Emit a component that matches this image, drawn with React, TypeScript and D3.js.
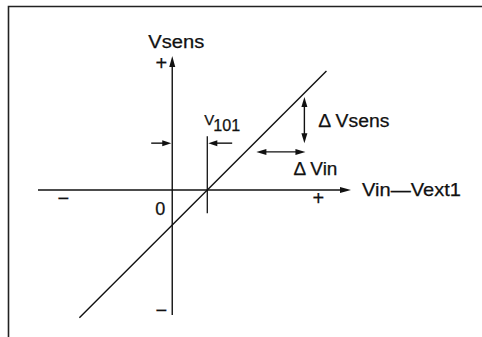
import React from "react";
import * as d3 from "d3";

// axis extents in data units (1 unit = V101 offset)
const vinExtent = [-3.83, 5.1];
const vsensExtent = [-3.57, 3.83];

// transfer characteristic Vsens = Vin - Vext1 - V101
const transferVin = [-2.65, 4.4];
const transferVsens = [-3.65, 3.4];

const v101 = 1;
const v101Marker = [-0.66, 1.54];
const offsetArrowLevel = 1.34;
const offsetArrowLeft = [-0.6, 0];
const offsetArrowRight = [1.71, v101];

const deltaVinRange = [2.4, 3.8];
const deltaVinLevel = 1.09;
const deltaVsensRange = [1.34, 2.66];
const deltaVsensAt = 3.77;

const xSignLabels = ["−", "+"];
const xSignPos = [-3.11, 4.17];
const ySignLabels = ["+", "−"];
const ySignPos = [3.63, -3.43];

const W = 482;
const H = 337;
const FONT = "'Liberation Sans', Arial, Helvetica, sans-serif";

// filled arrowhead with its tip at (x, y), pointing along (dx, dy)
function head(x: number, y: number, dx: number, dy: number, len = 10, half = 3) {
  const n = Math.hypot(dx, dy);
  const ux = dx / n;
  const uy = dy / n;
  const bx = x - ux * len;
  const by = y - uy * len;
  return `M${x},${y}L${bx - uy * half},${by + ux * half}L${bx + uy * half},${by - ux * half}Z`;
}

export default function App() {
  const x = d3.scaleLinear().domain(vinExtent).range([38, 351]);
  const y = d3.scaleLinear().domain(vsensExtent).range([315, 56]);

  const x0 = x(0);
  const y0 = y(0);

  const line = d3
    .line<number>()
    .x((d) => x(transferVin[d]))
    .y((d) => y(transferVsens[d]));

  const stroke = "#111";
  const sw = 1.4;
  const txt = { fill: stroke, stroke: stroke, strokeWidth: 0.25 };

  return (
    <svg
      width={W}
      height={H}
      style={{ position: "absolute", left: 0, top: 0, background: "#fff" }}
      fontFamily={FONT}
    >
      {/* frame */}
      <path d={`M8.5,337V6.5H482`} fill="none" stroke="#222" strokeWidth={1.6} />

      {/* axes */}
      <line x1={x(vinExtent[0])} x2={x(vinExtent[1]) - 6} y1={y0} y2={y0} stroke={stroke} strokeWidth={sw} />
      <path d={head(x(vinExtent[1]), y0, 1, 0, 11, 3)} fill={stroke} />
      <line x1={x0} x2={x0} y1={y(vsensExtent[0])} y2={y(vsensExtent[1]) + 6} stroke={stroke} strokeWidth={sw} />
      <path d={head(x0, y(vsensExtent[1]), 0, -1, 11, 3)} fill={stroke} />

      {/* transfer line */}
      <path d={line([0, 1]) ?? ""} fill="none" stroke={stroke} strokeWidth={sw} />

      {/* V101 offset marker */}
      <line x1={x(v101)} x2={x(v101)} y1={y(v101Marker[0])} y2={y(v101Marker[1])} stroke={stroke} strokeWidth={1.3} />
      <line
        x1={x(offsetArrowLeft[0])}
        x2={x(offsetArrowLeft[1]) - 6}
        y1={y(offsetArrowLevel)}
        y2={y(offsetArrowLevel)}
        stroke={stroke}
        strokeWidth={sw}
      />
      <path d={head(x(offsetArrowLeft[1]) - 1, y(offsetArrowLevel), 1, 0, 9, 3)} fill={stroke} />
      <line
        x1={x(offsetArrowRight[0])}
        x2={x(offsetArrowRight[1]) + 6}
        y1={y(offsetArrowLevel)}
        y2={y(offsetArrowLevel)}
        stroke={stroke}
        strokeWidth={sw}
      />
      <path d={head(x(offsetArrowRight[1]) + 1, y(offsetArrowLevel), -1, 0, 9, 3)} fill={stroke} />

      {/* delta Vsens double arrow */}
      <line
        x1={x(deltaVsensAt)}
        x2={x(deltaVsensAt)}
        y1={y(deltaVsensRange[0]) - 6}
        y2={y(deltaVsensRange[1]) + 6}
        stroke={stroke}
        strokeWidth={sw}
      />
      <path d={head(x(deltaVsensAt), y(deltaVsensRange[1]), 0, -1, 10, 3)} fill={stroke} />
      <path d={head(x(deltaVsensAt), y(deltaVsensRange[0]), 0, 1, 10, 3)} fill={stroke} />

      {/* delta Vin double arrow */}
      <line
        x1={x(deltaVinRange[0]) + 6}
        x2={x(deltaVinRange[1]) - 6}
        y1={y(deltaVinLevel)}
        y2={y(deltaVinLevel)}
        stroke={stroke}
        strokeWidth={sw}
      />
      <path d={head(x(deltaVinRange[0]), y(deltaVinLevel), -1, 0, 10, 3)} fill={stroke} />
      <path d={head(x(deltaVinRange[1]), y(deltaVinLevel), 1, 0, 10, 3)} fill={stroke} />

      {/* sign labels */}
      {xSignLabels.map((s, i) => (
        <text key={"xs" + i} x={x(xSignPos[i])} y={y0 + 15} fontSize={20} textAnchor="middle" {...txt}>
          {s}
        </text>
      ))}
      {ySignLabels.map((s, i) => (
        <text key={"ys" + i} x={x0 - 11} y={y(ySignPos[i]) + 7} fontSize={20} textAnchor="middle" {...txt}>
          {s}
        </text>
      ))}
      <text x={x0 - 12} y={y0 + 25} fontSize={18} textAnchor="middle" {...txt}>
        0
      </text>

      {/* axis titles */}
      <text x={x0 - 24} y={48} fontSize={18} textLength={56} lengthAdjust="spacingAndGlyphs" {...txt}>
        Vsens
      </text>
      <text
        x={x(vinExtent[1]) + 11}
        y={y0 + 6}
        fontSize={19}
        textLength={99}
        lengthAdjust="spacingAndGlyphs"
        {...txt}
      >
        Vin—Vext1
      </text>

      {/* annotations */}
      <text x={x(v101) - 3} y={125} fontSize={15} {...txt}>
        V
      </text>
      <text x={x(v101) + 6} y={131} fontSize={16} textLength={27} lengthAdjust="spacingAndGlyphs" {...txt}>
        101
      </text>
      <text x={x(deltaVsensAt) + 14} y={127} fontSize={18} textLength={71} lengthAdjust="spacingAndGlyphs" {...txt}>
        Δ Vsens
      </text>
      <text x={x(deltaVinRange[1]) - 12} y={175} fontSize={18} textLength={44} lengthAdjust="spacingAndGlyphs" {...txt}>
        Δ Vin
      </text>
    </svg>
  );
}
